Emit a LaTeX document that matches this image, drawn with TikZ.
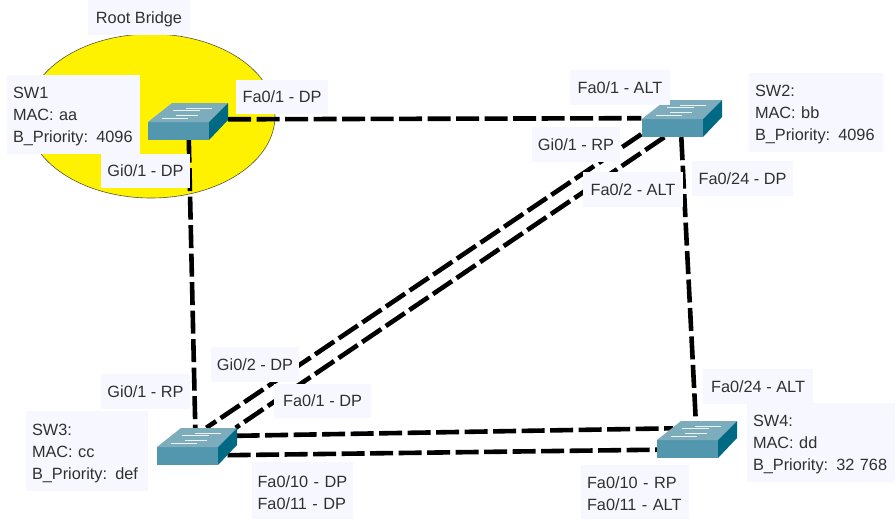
\documentclass[tikz,border=0pt]{standalone}
\usepackage{fontspec}
\setmainfont{Liberation Sans}
\usetikzlibrary{positioning,shapes.geometric}
\definecolor{lblbg}{HTML}{F7F8FF}
\definecolor{swfront}{HTML}{5297AE}
\definecolor{swtop}{HTML}{7DADBD}
\definecolor{swside}{HTML}{006A84}
\definecolor{txt}{HTML}{303030}
\newcommand{\toppad}{\rule{0pt}{16pt}}
\tikzset{
  lbl/.style={fill=lblbg,inner sep=0pt,text=txt,font=\fontsize{16.3}{22}\selectfont,align=left},
  lblone/.style={lbl,text depth=0pt},
  swbox/.style={rectangle,inner sep=0pt,minimum width=80pt,minimum height=37pt},
  trunk/.style={black,line width=4.6pt,dash pattern=on 23pt off 5.5pt},
  rootzone/.style={fill=yellow,draw=black!75!yellow,line width=0.6pt},
  swmark/.style={white!85!swtop,line width=0.8pt},
  swbody/.pic={
    \fill[swfront] (0,0) rectangle (61,18);
    \fill[swtop] (0,0) -- (24,-19) -- (80,-19) -- (61,0) -- cycle;
    \fill[swside] (61,0) -- (80,-19) -- (80,-2) -- (61,18) -- cycle;
    \draw[swmark] (25,-12) -- (52,-12);
    \draw[swmark] (38,-14) -- (64,-14);
    \draw[swmark] (14,-4) -- (40,-4);
    \draw[swmark] (28,-7) -- (50,-7);
  }
}
\begin{document}
\begin{tikzpicture}[x=1pt,y=-1pt]
\useasboundingbox (0,0) rectangle (896,519);
\fill[white] (0,0) rectangle (896,519);
\node[rootzone,ellipse,inner sep=0pt,minimum width=248pt,minimum height=164pt] (root) at (151,116) {};

\node[swbox] (sw1) at (188,121) {};
\node[swbox] (sw2) at (681.5,118.5) {};
\node[swbox] (sw3) at (196.5,446.5) {};
\node[swbox] (sw4) at (697,440) {};

\draw[trunk] ([yshift=-17]sw1.north east) -- ([yshift=19]sw2.south west);
\draw[trunk] ([xshift=41]sw1.south west) -- ([xshift=39]sw3.north west);
\draw[trunk] ([xshift=40]sw2.south west) -- ([xshift=39]sw4.north west);
\draw[trunk] ([yshift=3]sw2.south west) -- ([xshift=50]sw3.north west);
\draw[trunk] ([xshift=23]sw2.south west) -- ([xshift=-1]sw3.north east);
\draw[trunk] ([yshift=-8]sw3.north east) -- ([xshift=16,yshift=-7]sw4.north west);
\draw[trunk] ([xshift=-9,yshift=10]sw3.south east) -- ([yshift=9]sw4.south west);

\pic at (148,122) {swbody};
\pic at (642,119) {swbody};
\pic at (157,447) {swbody};
\pic at (657,440) {swbody};

\node[lblone,minimum width=102pt,minimum height=35pt] (t1) at (139,17.5) {Root Bridge};
\node[lbl,minimum width=133pt,minimum height=79pt,text width=121pt] (t2) at (73.5,114.5) {\toppad SW1\\MAC: aa\\B\_Priority: 4096};
\node[lblone,minimum width=92pt,minimum height=34pt] (t3) at (282,97) {Fa0/1 - DP};
\node[lblone,minimum width=89pt,minimum height=34pt] (t4) at (145.5,171) {Gi0/1 - DP};
\node[lblone,minimum width=100pt,minimum height=35pt] (t5) at (620,87.5) {Fa0/1 - ALT};
\node[lblone,minimum width=88pt,minimum height=35pt] (t6) at (576,144.5) {Gi0/1 - RP};
\node[lblone,minimum width=100pt,minimum height=35pt] (t7) at (633,189.5) {Fa0/2 - ALT};
\node[lblone,minimum width=101pt,minimum height=35pt] (t8) at (742.5,178.5) {Fa0/24 - DP};
\node[lbl,minimum width=134pt,minimum height=79pt,text width=122pt] (t9) at (816,112.5) {\toppad SW2:\\MAC: bb\\B\_Priority: 4096};
\node[lblone,minimum width=88pt,minimum height=35pt] (t10) at (255,364.5) {Gi0/2 - DP};
\node[lblone,minimum width=89pt,minimum height=35pt] (t11) at (145.5,391.5) {Gi0/1 - RP};
\node[lblone,minimum width=97pt,minimum height=34pt] (t12) at (322.5,401) {Fa0/1 - DP};
\node[lbl,minimum width=122pt,minimum height=80pt,text width=110pt] (t13) at (87,451) {\toppad SW3:\\MAC: cc\\B\_Priority: def};
\node[lbl,minimum width=101pt,minimum height=57pt,text width=90pt] (t14) at (302.5,490.5) {\toppad Fa0/10 - DP\\Fa0/11 - DP};
\node[lblone,minimum width=110pt,minimum height=35pt] (t15) at (758,386.5) {Fa0/24 - ALT};
\node[lbl,minimum width=148pt,minimum height=79pt,text width=136pt] (t16) at (821,442.5) {\toppad SW4:\\MAC: dd\\B\_Priority: 32 768};
\node[lbl,minimum width=108pt,minimum height=54pt,text width=96pt] (t17) at (635,492) {\toppad Fa0/10 - RP\\Fa0/11 - ALT};
\end{tikzpicture}
\end{document}
